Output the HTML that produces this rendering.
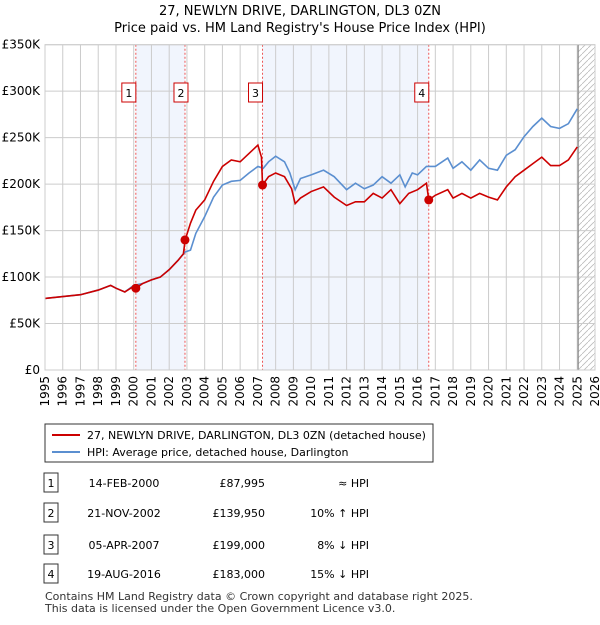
<!DOCTYPE html>
<html><head><meta charset="utf-8"><style>
body{margin:0;background:#fff;font-family:"Liberation Sans","DejaVu Sans",sans-serif;}
svg text{font-family:"DejaVu Sans","Liberation Sans",sans-serif;}
</style></head><body>
<svg id="c" width="600" height="620" xmlns="http://www.w3.org/2000/svg">
<text x="300" y="15" text-anchor="middle" font-size="13">27, NEWLYN DRIVE, DARLINGTON, DL3 0ZN</text>
<text x="300" y="32" text-anchor="middle" font-size="13">Price paid vs. HM Land Registry's House Price Index (HPI)</text>
<defs><pattern id="h" width="6" height="6" patternUnits="userSpaceOnUse"><path d="M0 6L6 0" stroke="#bbb" stroke-width="0.8"/></pattern></defs>
<g id="plot"></g>
<g>
<rect x="45" y="424" width="388" height="38" fill="#fff" stroke="#333"/>
<line x1="52" y1="435" x2="80" y2="435" stroke="#cc0000" stroke-width="2"/>
<text x="87" y="439" font-size="11">27, NEWLYN DRIVE, DARLINGTON, DL3 0ZN (detached house)</text>
<line x1="52" y1="452" x2="80" y2="452" stroke="#5b8fd0" stroke-width="2"/>
<text x="87" y="456" font-size="11">HPI: Average price, detached house, Darlington</text>
</g>
<g id="tbl" font-size="11"></g>
<text x="45" y="600" font-size="11" fill="#333">Contains HM Land Registry data © Crown copyright and database right 2025.</text>
<text x="45" y="612" font-size="11" fill="#333">This data is licensed under the Open Government Licence v3.0.</text>
</svg>
<script>
const hpiYears=[1995,1996,1997,1998,1998.7,1999,1999.5,2000,2000.5,2001,2001.5,2002,2002.5,2002.9,2003.2,2003.5,2004,2004.5,2005,2005.5,2006,2006.5,2007,2007.3,2007.6,2008,2008.5,2008.8,2009.1,2009.4,2010,2010.7,2011.3,2012,2012.5,2013,2013.5,2014,2014.5,2015,2015.3,2015.7,2016,2016.5,2017,2017.7,2018,2018.5,2019,2019.5,2020,2020.5,2021,2021.5,2022,2022.5,2023,2023.5,2024,2024.5,2025];
const hpiValues=[77,79,81,86,91,88,84,91,93,97,100,108,118,127,129,147,165,186,199,203,204,212,219,217,224,230,224,212,194,206,210,215,208,194,201,195,199,208,201,210,197,212,210,219,219,228,217,224,215,226,217,215,231,237,251,262,271,262,260,265,281];
const priceYears=[1995,1996,1997,1998,1998.7,1999,1999.5,2000,2000.12,2000.5,2001,2001.5,2002,2002.5,2002.8,2002.9,2003.2,2003.5,2004,2004.5,2005,2005.5,2006,2006.5,2007,2007.2,2007.26,2007.6,2008,2008.5,2008.9,2009.1,2009.4,2010,2010.7,2011.3,2012,2012.5,2013,2013.5,2014,2014.5,2015,2015.5,2016,2016.5,2016.63,2017,2017.7,2018,2018.5,2019,2019.5,2020,2020.5,2021,2021.5,2022,2022.5,2023,2023.5,2024,2024.5,2025];
const priceValues=[77,79,81,86,91,88,84,90,88,93,97,100,108,118,125,140,158,172,183,203,219,226,224,233,242,229,199,208,212,208,195,179,185,192,197,186,177,181,181,190,185,194,179,190,194,201,183,188,194,185,190,185,190,186,183,197,208,215,222,229,220,220,226,240];
const saleLabels=["1","2","3","4"];
const saleYears=[2000.12,2002.89,2007.26,2016.63];
const saleValues=[87.995,139.95,199,183];
const saleDates=["14-FEB-2000","21-NOV-2002","05-APR-2007","19-AUG-2016"];
const salePrices=["£87,995","£139,950","£199,000","£183,000"];
const saleRel=["≈ HPI","10% ↑ HPI","8% ↓ HPI","15% ↓ HPI"];
const yTicks=[0,50,100,150,200,250,300,350];
const yTickLabels=["£0","£50K","£100K","£150K","£200K","£250K","£300K","£350K"];

const NS="http://www.w3.org/2000/svg";
const X0=45,X1=595,Y0=370,Y1=44.7;
const xs=y=>X0+(y-1995)/31*(X1-X0);
const ys=v=>Y0-v/350*(Y0-Y1);
const plot=document.getElementById('plot');
function mk(tag,a,p){const e=document.createElementNS(NS,tag);for(const k in a)e.setAttribute(k,a[k]);(p||plot).appendChild(e);return e;}
// shaded regions
for(const [a,b] of [[0,1],[2,3]]){
 const r=mk('rect',{x:xs(saleYears[a]),y:Y1,width:xs(saleYears[b])-xs(saleYears[a]),height:Y0-Y1,fill:'#eef3fd',opacity:0.8});
 
 
}
const hx=xs(2025.05);
const hr=mk('rect',{x:hx,y:Y1,width:X1-hx,height:Y0-Y1,fill:'url(#h)'});


// grid
for(let yr=1995;yr<=2026;yr++){
 const g=mk('line',{x1:xs(yr),x2:xs(yr),y1:Y1,y2:Y0,stroke:'#ccc','stroke-width':1});
 
 
 const t=mk('text',{transform:`translate(${xs(yr)+4},${Y0+6}) rotate(-90)`,'text-anchor':'end','font-size':12});
 t.textContent=yr;
 
 
}
yTicks.forEach((v,i)=>{
 const g=mk('line',{x1:X0,x2:X1,y1:ys(v),y2:ys(v),stroke:'#ccc','stroke-width':1});
 
 
 const t=mk('text',{x:X0-5,y:ys(v)+4,'text-anchor':'end','font-size':12});
 t.textContent=yTickLabels[i];
 
 
});
const nl=mk('line',{x1:hx,x2:hx,y1:Y1,y2:Y0,stroke:'#888','stroke-width':1.2});


// sale vlines + markers
saleYears.forEach((s,i)=>{
 const l=mk('line',{x1:xs(s),x2:xs(s),y1:Y1,y2:Y0,stroke:'#e55','stroke-width':1,'stroke-dasharray':'2,2'});
 
 
 const bx=xs(s)-(i==2||i==3?15:(i==1?0:0))-(i<2?8:0);
});
const ptsH=hpiYears.map((y,i)=>xs(y)+','+ys(hpiValues[i])).join(' ');
const lh=mk('polyline',{points:ptsH,fill:'none',stroke:'#5b8fd0','stroke-width':1.6});


const ptsP=priceYears.map((y,i)=>xs(y)+','+ys(priceValues[i])).join(' ');
const lp=mk('polyline',{points:ptsP,fill:'none',stroke:'#cc0000','stroke-width':1.6});


const boxOff=[-4,-4,-4,-4];
saleYears.forEach((s,i)=>{
 const d=mk('circle',{cx:xs(s),cy:ys(saleValues[i]),r:4.5,fill:'#cc0000'});
 
 
 const bx=xs(s)+(i==1?-11:-14)+ (i==1?0:0);
 const r=mk('rect',{x:bx,y:83,width:14,height:19,fill:'#fff',stroke:'#cc0000'});
 
 
 const t=mk('text',{x:bx+7,y:97,'text-anchor':'middle','font-size':11});
 t.textContent=saleLabels[i];
 
 
});
const fr=mk('rect',{x:X0,y:Y1,width:X1-X0,height:Y0-Y1,fill:'none',stroke:'#ccc'});


// table
const tbl=document.getElementById('tbl');
const rowY=[483,513,545,574];
saleLabels.forEach((l,i)=>{
 const y=rowY[i];
 const r=mk('rect',{x:44,y:y-10,width:14,height:19,fill:'#fff',stroke:'#333'},tbl);
 
 
 const cells=[[51,'middle',l],[124,'middle',saleDates[i]],[265,'end',salePrices[i]],[369,'end',saleRel[i]]];
 cells.forEach(c=>{
  const t=mk('text',{x:c[0],y:y+4,'text-anchor':c[1]},tbl);
  t.textContent=c[2];
  
  
 });
});
</script>
</body></html>
